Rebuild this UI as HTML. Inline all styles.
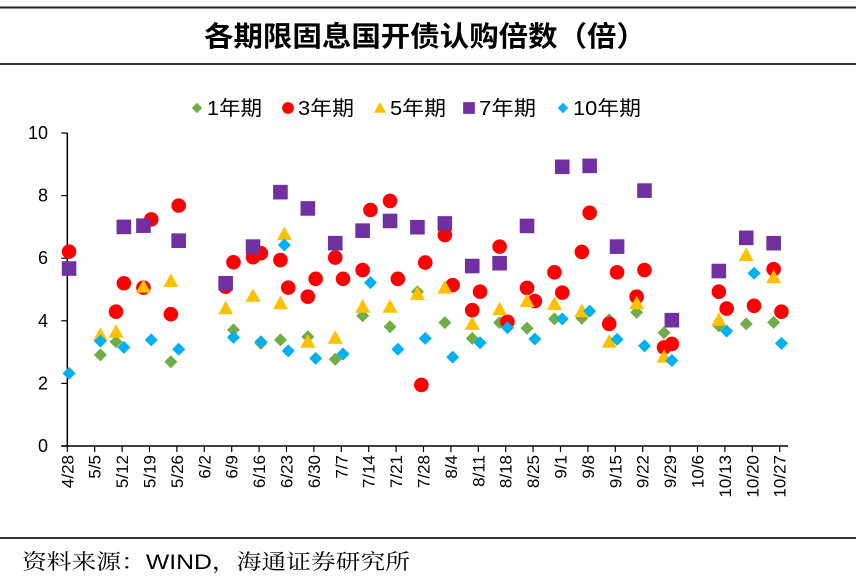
<!DOCTYPE html>
<html><head><meta charset="utf-8">
<style>
html,body{margin:0;padding:0;background:#fff;}
body{width:866px;height:581px;overflow:hidden;font-family:"Liberation Sans","Noto Sans CJK SC",sans-serif;}
</style></head>
<body>
<svg id="chart" width="866" height="581" xmlns="http://www.w3.org/2000/svg">
<line x1="0" y1="7.5" x2="856" y2="7.5" stroke="#222" stroke-width="2"/>
<text x="204" y="46" textLength="442" lengthAdjust="spacingAndGlyphs" font-size="28" font-weight="bold" font-family="'Noto Sans CJK SC',sans-serif" fill="#000">各期限固息国开债认购倍数（倍）</text>
<line x1="0" y1="64" x2="856" y2="64" stroke="#333" stroke-width="2"/>
<line x1="0" y1="538" x2="856" y2="538" stroke="#333" stroke-width="2"/>
<text x="22" y="569" textLength="388" lengthAdjust="spacingAndGlyphs" font-size="21" font-family="'Liberation Sans','Noto Serif CJK SC',serif" fill="#000">资料来源：WIND，海通证券研究所</text>
<g id="legend" font-size="20" fill="#000"></g>
<g id="axes"></g>
<g id="marks"></g>
</svg>
<script>
const xLabels = ["4/28","5/5","5/12","5/19","5/26","6/2","6/9","6/16","6/23","6/30","7/7","7/14","7/21","7/28","8/4","8/11","8/18","8/25","9/1","9/8","9/15","9/22","9/29","10/6","10/13","10/20","10/27"];
const yTicks = [0,2,4,6,8,10];
// day offsets from 4/28 and values
const y1Days = [8,12,26,42,49,54,61,68,75,82,89,96,103,110,117,124,131,138,145,152,166,173,180];
const y1Vals = [2.91,3.33,2.69,3.71,3.28,3.39,3.49,2.77,4.16,3.81,4.93,3.94,3.44,3.94,3.76,4.06,4.08,4.03,4.27,3.62,3.84,3.90,3.95];
const y3Days = [0,12,14,19,21,26,28,40,42,47,49,54,56,61,63,68,70,75,77,82,84,90,91,96,98,103,105,110,112,117,119,124,126,131,133,138,140,145,147,152,154,166,168,175,180,182];
const y3Vals = [6.21,4.29,5.20,5.06,7.24,4.21,7.68,5.09,5.87,6.03,6.16,5.94,5.06,4.77,5.34,6.02,5.34,5.62,7.54,7.83,5.34,1.95,5.86,6.74,5.14,4.34,4.93,6.37,3.97,5.05,4.63,5.55,4.90,6.20,7.45,3.90,5.55,4.77,5.62,3.15,3.26,4.93,4.39,4.48,5.65,4.29];
const y5Days = [8,12,19,26,40,47,54,55,61,68,75,82,89,96,103,110,117,124,131,138,145,152,166,173,180];
const y5Vals = [3.55,3.65,5.09,5.27,4.40,4.80,4.56,6.77,3.33,3.46,4.45,4.45,4.86,5.06,3.90,4.37,4.63,4.54,4.31,3.33,4.56,2.85,4.03,6.10,5.39];
const y7Days = [0,14,19,28,40,47,54,61,68,75,82,89,96,103,110,117,126,133,140,147,154,166,173,180];
const y7Vals = [5.67,7.00,7.04,6.56,5.20,6.37,8.11,7.59,6.48,6.88,7.19,6.99,7.11,5.75,5.84,7.03,8.92,8.95,6.37,8.16,4.02,5.59,6.65,6.48];
const y10Days = [0,8,14,21,28,42,49,55,56,63,70,77,84,91,98,105,112,119,126,133,140,147,154,168,175,182];
const y10Vals = [2.32,3.35,3.15,3.39,3.09,3.47,3.33,6.42,3.04,2.80,2.94,5.22,3.09,3.44,2.84,3.30,3.78,3.42,4.06,4.31,3.41,3.20,2.73,3.67,5.52,3.28];

const NS="http://www.w3.org/2000/svg";
const X0=67.3, PXD=27.4/7, XEND=788, Y0=446, PXU=31.3;
const xTick = i => X0 + i*7*PXD;
const xDay = d => X0 + (d+0.45)*PXD;
const yV = v => Y0 - v*PXU;
function mk(tag, attrs, parent){const e=document.createElementNS(NS,tag);for(const k in attrs)e.setAttribute(k,attrs[k]);parent.appendChild(e);return e;}
const axes=document.getElementById('axes'), marks=document.getElementById('marks'), legend=document.getElementById('legend');

let yl=mk('line',{x1:X0,y1:yV(10),x2:X0,y2:Y0,stroke:'#000','stroke-width':1.5},axes);


let xl=mk('line',{x1:X0-6,y1:Y0,x2:XEND,y2:Y0,stroke:'#000','stroke-width':1.5},axes);


yTicks.forEach(v=>{
  const t=mk('line',{x1:X0-6,y1:yV(v),x2:X0,y2:yV(v),stroke:'#000','stroke-width':1.2},axes);
  
  
  const l=mk('text',{x:48,y:yV(v)+6,'text-anchor':'end','font-size':18,fill:'#000'},axes);
  
  
  l.textContent=v;
});
xLabels.forEach((s,i)=>{
  const x=xTick(i);
  const t=mk('line',{x1:x,y1:Y0,x2:x,y2:Y0+6,stroke:'#000','stroke-width':1.2},axes);
  
  
  const l=mk('text',{x:0,y:0,'text-anchor':'end','font-size':17,fill:'#000',transform:`translate(${x+6},${Y0+9}) rotate(-90)`},axes);
  
  
  l.textContent=s;
});

function shape(type,cx,cy,color,parent,scale){
  scale=scale||1;
  let e;
  if(type==='diamond'){const r=6.5*scale;e=mk('polygon',{points:`${cx},${cy-r} ${cx+r},${cy} ${cx},${cy+r} ${cx-r},${cy}`,fill:color},parent);}
  else if(type==='circle'){e=mk('circle',{cx:cx,cy:cy,r:7.3*scale,fill:color},parent);}
  else if(type==='triangle'){const r=7.5*scale;e=mk('polygon',{points:`${cx},${cy-r} ${cx+r},${cy+r*0.8} ${cx-r},${cy+r*0.8}`,fill:color},parent);}
  else {const r=7.3*scale;e=mk('rect',{x:cx-r,y:cy-r,width:2*r,height:2*r,fill:color},parent);}
  return e;
}
const series=[
  {name:'1年期',days:y1Days,vals:y1Vals,type:'diamond',color:'#70AD47',key:'y1'},
  {name:'3年期',days:y3Days,vals:y3Vals,type:'circle',color:'#FF0000',key:'y3'},
  {name:'5年期',days:y5Days,vals:y5Vals,type:'triangle',color:'#FFC000',key:'y5'},
  {name:'7年期',days:y7Days,vals:y7Vals,type:'square',color:'#7030A0',key:'y7'},
  {name:'10年期',days:y10Days,vals:y10Vals,type:'diamond',color:'#00B0F0',key:'y10'}
];
series.forEach(s=>{
  const g=mk('g',{},marks);
  
  
  s.days.forEach((d,i)=>{
    const e=shape(s.type,xDay(d),yV(s.vals[i]),s.color,g);
    
    
  });
});
const legX=[197,288,380,469,563];
const legW=[55,56,56,57,68];
series.forEach((s,i)=>{
  const g=mk('g',{},legend);
  
  
  const m=shape(s.type,legX[i],108,s.color,g,0.8);
  
  
  const t=mk('text',{x:legX[i]+10,y:115,'font-size':20,fill:'#000',textLength:legW[i],lengthAdjust:'spacingAndGlyphs'},g);
  
  
  t.textContent=s.name;
});
</script>
</body></html>
